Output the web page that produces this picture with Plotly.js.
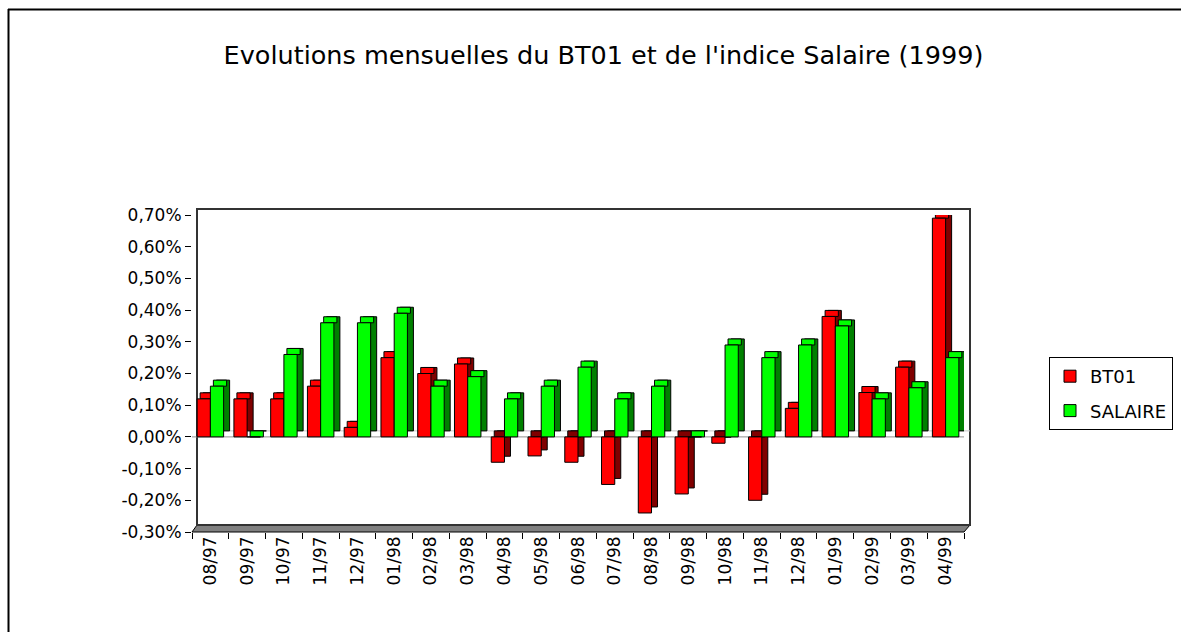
<!DOCTYPE html>
<html>
<head>
<meta charset="utf-8">
<script src="https://cdn.plot.ly/plotly-3.0.1.min.js"></script>
<style>html,body{margin:0;padding:0;background:#fff;}#chart{width:1181px;height:632px;}</style>
</head>
<body>
<div id="chart"></div>
<script>
const months = ['08/97','09/97','10/97','11/97','12/97','01/98','02/98','03/98','04/98','05/98','06/98','07/98','08/98','09/98','10/98','11/98','12/98','01/99','02/99','03/99','04/99'];
const bt01 = [0.12,0.12,0.12,0.16,0.03,0.25,0.20,0.23,-0.08,-0.06,-0.08,-0.15,-0.24,-0.18,-0.02,-0.20,0.09,0.38,0.14,0.22,0.69];
const salaire = [0.16,0.00,0.26,0.36,0.36,0.39,0.16,0.19,0.12,0.16,0.22,0.12,0.16,0.00,0.29,0.25,0.29,0.35,0.12,0.155,0.25];
const yTickVals = [-0.3,-0.2,-0.1,0,0.1,0.2,0.3,0.4,0.5,0.6,0.7];
const yTickText = ['-0,30%','-0,20%','-0,10%','0,00%','0,10%','0,20%','0,30%','0,40%','0,50%','0,60%','0,70%'];

// 3D look parameters (category units / value units)
const W = 0.36, DX = 0.163, DY = 0.019;
const FONT = '"DejaVu Sans", "Liberation Sans", Arial, sans-serif';

function series(name, vals, front, side, off, group) {
  const line = {color: '#000', width: 1};
  return [
    {type: 'bar', x: months, y: vals, base: vals.map(() => DY), offset: off + DX, width: W,
     marker: {color: side, line: line}, showlegend: false, legendgroup: group, hoverinfo: 'skip'},
    {type: 'bar', x: months, y: vals.map(() => DY), base: vals.map(v => Math.max(v, 0)), offset: off + DX / 2, width: W,
     marker: {color: vals.map(v => v < 0 ? side : front), line: line}, showlegend: false, legendgroup: group, hoverinfo: 'skip'},
    {type: 'bar', name: name, x: months, y: vals, offset: off, width: W,
     marker: {color: front, line: line}, legendgroup: group}
  ];
}

const data = [].concat(
  series('BT01', bt01, '#ff0000', '#800000', -0.36, 'a'),
  series('SALAIRE', salaire, '#00ff00', '#008000', 0.0, 'b')
);

// plot area: x 192..964, y 215..532
const px = p => (p - 192) / 772;
const py = p => (532 - p) / 317;

const shapes = [
  // outer frame (left and top)
  {type: 'line', xref: 'paper', yref: 'paper', x0: px(8.5), x1: px(8.5), y0: py(9), y1: py(640), line: {color: '#000', width: 2}},
  {type: 'line', xref: 'paper', yref: 'paper', x0: px(8), x1: px(1190), y0: py(9.5), y1: py(9.5), line: {color: '#000', width: 2}},
  // floor
  {type: 'path', xref: 'paper', yref: 'paper', layer: 'below',
   path: `M${px(192)},${py(532)} L${px(964)},${py(532)} L${px(970)},${py(525)} L${px(197)},${py(525)} Z`,
   fillcolor: '#808080', line: {color: '#000', width: 1}},
  // back wall
  {type: 'rect', xref: 'paper', yref: 'paper', layer: 'below', x0: px(197), x1: px(970), y0: py(525), y1: py(209),
   line: {color: '#333', width: 2}},
  // zero plane
  {type: 'line', xref: 'paper', yref: 'y', layer: 'below', x0: px(192), x1: px(964), y0: 0, y1: 0, line: {color: '#909090', width: 1}},
  {type: 'line', xref: 'paper', yref: 'y', layer: 'below', x0: px(197), x1: px(970), y0: DY, y1: DY, line: {color: '#c8c8c8', width: 1}}
];

const layout = {
  width: 1181, height: 632,
  margin: {l: 192, r: 217, t: 215, b: 100, pad: 0, autoexpand: false},
  paper_bgcolor: '#fff', plot_bgcolor: 'rgba(0,0,0,0)',
  barmode: 'overlay',
  font: {family: FONT, color: '#000', size: 17},
  title: {text: "Evolutions mensuelles du BT01 et de l'indice Salaire (1999)",
          font: {family: FONT, size: 25.5, color: '#000'},
          x: 603.5 / 1181, xanchor: 'center', xref: 'container',
          y: 1 - 55 / 632, yanchor: 'middle', yref: 'container'},
  xaxis: {type: 'category', range: [-0.5, 20.5], tickangle: -90, ticks: 'outside', tickson: 'boundaries',
          ticklen: 6, tickcolor: '#000', showline: false, showgrid: false, zeroline: false, automargin: false,
          tickfont: {family: FONT, size: 17, color: '#000'}, fixedrange: true},
  yaxis: {range: [-0.3, 0.7], tickvals: yTickVals, ticktext: yTickText, ticks: 'outside', ticklen: 6,
          tickcolor: '#000', showline: false, showgrid: false, zeroline: false, automargin: false,
          tickfont: {family: FONT, size: 17, color: '#000'}, fixedrange: true},
  legend: {x: px(1049), xanchor: 'left', y: py(357), yanchor: 'top', bgcolor: '#fff',
           bordercolor: '#000', borderwidth: 1, tracegroupgap: 8,
           font: {family: FONT, size: 18, color: '#000'}},
  shapes: shapes,
  showlegend: true
};

Plotly.newPlot('chart', data, layout, {displayModeBar: false, staticPlot: true});
</script>
</body>
</html>
